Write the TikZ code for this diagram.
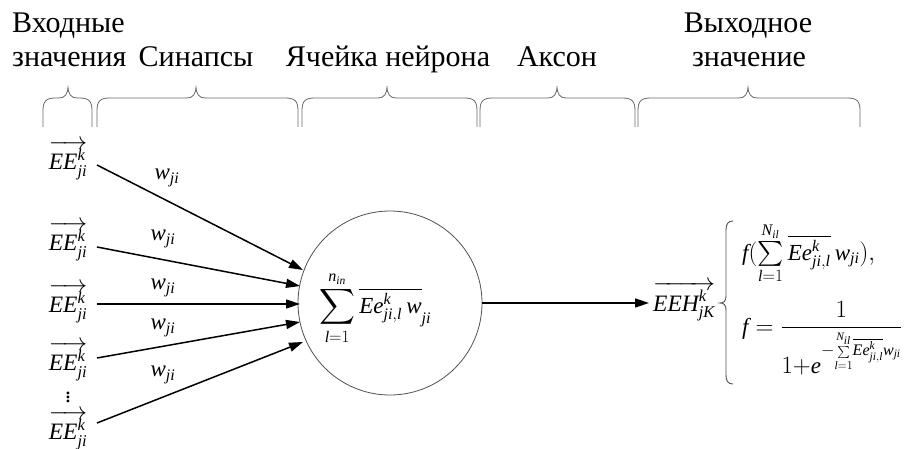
\documentclass[tikz,border=0pt]{standalone}
\usepackage{exscale}
\usepackage{amsmath}
\usepackage{fontspec}
\setmainfont{Liberation Serif}
\newfontfamily\libser{Liberation Serif}[NFSSFamily=libser]
\DeclareSymbolFont{tlet}{TU}{libser}{m}{it}
\DeclareMathSymbol{E}{\mathalpha}{tlet}{`E}
\DeclareMathSymbol{H}{\mathalpha}{tlet}{`H}
\DeclareMathSymbol{K}{\mathalpha}{tlet}{`K}
\DeclareMathSymbol{N}{\mathalpha}{tlet}{`N}
\DeclareMathSymbol{e}{\mathalpha}{tlet}{`e}
\DeclareMathSymbol{f}{\mathalpha}{tlet}{`f}
\DeclareMathSymbol{i}{\mathalpha}{tlet}{`i}
\DeclareMathSymbol{j}{\mathalpha}{tlet}{`j}
\DeclareMathSymbol{k}{\mathalpha}{tlet}{`k}
\DeclareMathSymbol{l}{\mathalpha}{tlet}{`l}
\DeclareMathSymbol{n}{\mathalpha}{tlet}{`n}
\DeclareMathSymbol{w}{\mathalpha}{tlet}{`w}
\usetikzlibrary{arrows.meta}
\definecolor{bracegray}{HTML}{6A6A6A}
\definecolor{circgray}{HTML}{505050}
\tikzset{
  lbl/.style={font=\fontsize{30}{34}\selectfont, inner sep=0pt},
  inp/.style={font=\fontsize{23.5}{26}\selectfont, inner sep=0pt},
  wl/.style={font=\fontsize{23}{26}\selectfont, inner sep=0pt},
  eq/.style={font=\fontsize{23}{26}\selectfont, inner sep=0pt},
  arr/.style={line width=1.5pt, -{Triangle[length=14pt,width=9pt]}},
  brc/.style={draw=bracegray, line width=0.8pt},
}
\begin{document}
\begin{tikzpicture}[x=1pt,y=-1pt]
\useasboundingbox (0,0) rectangle (912,449);
% titles
\node[lbl, anchor=base west] (t1a) at (12,33) {Входные};
\node[lbl, anchor=base west] (t1b) at (12,67) {значения};
\node[lbl, anchor=base] (t2) at (196,67) {Синапсы};
\node[lbl, anchor=base] (t3) at (388,67) {Ячейка нейрона};
\node[lbl, anchor=base] (t4) at (557,67) {Аксон};
\node[lbl, anchor=base] (t5a) at (748,33) {Выходное};
\node[lbl, anchor=base] (t5b) at (749,67) {значение};
% braces
\foreach \xa/\xb/\tp in {43/92/68, 97/298/196, 302/477/387, 480/635/557, 638/860/748}{
  \draw[brc] (\xa,127) -- (\xa,111) .. controls (\xa,101) and (\xa+3,98) .. (\xa+13,98)
     -- (\tp-9,98) .. controls (\tp-3,98) and (\tp,94) .. (\tp,86)
     .. controls (\tp,94) and (\tp+3,98) .. (\tp+9,98)
     -- (\xb-13,98) .. controls (\xb-3,98) and (\xb,101) .. (\xb,111) -- (\xb,127);
}
% inputs
\node[inp] (i1) at (68,160) {$\overrightarrow{EE^{k}_{ji}}$};
\node[inp] (i2) at (68,241) {$\overrightarrow{EE^{k}_{ji}}$};
\node[inp] (i3) at (68,303) {$\overrightarrow{EE^{k}_{ji}}$};
\node[inp] (i4) at (68,361) {$\overrightarrow{EE^{k}_{ji}}$};
\node[inp] (dd) at (68,394) {$\vdots$};
\node[inp] (i5) at (68,430) {$\overrightarrow{EE^{k}_{ji}}$};
% neuron
\node[draw=circgray, line width=0.8pt, circle, minimum size=184pt, inner sep=0pt] (c) at (390,303) {};
\node[eq, anchor=base west] (sum) at (319,313) {$\displaystyle\sum_{l=1}^{n_{in}}\overline{Ee^{k}_{ji,l}\,w}_{ji}$};
% coordinates for arrow ends
\coordinate (s1) at (97,165); \coordinate (e1) at (303,270);
\coordinate (s2) at (97,247); \coordinate (e2) at (300,286);
\coordinate (s3) at (97,304); \coordinate (e3) at (300,304);
\coordinate (s4) at (97,358); \coordinate (e4) at (300,322);
\coordinate (s5) at (97,423); \coordinate (e5) at (303,342);
\foreach \i in {1,...,5}{ \draw[arr] (s\i) -- (e\i); }
% weights
\node[wl] (w1) at (167,178) {$w_{ji}$};
\node[wl] (w2) at (163,239) {$w_{ji}$};
\node[wl] (w3) at (163,288) {$w_{ji}$};
\node[wl] (w4) at (163,328) {$w_{ji}$};
\node[wl] (w5) at (163,375) {$w_{ji}$};
% output
\node[inp, anchor=base west, inner sep=4pt] (out) at (649,311) {$\overrightarrow{EEH^{k}_{jK}}$};
\draw[arr] (c.east) -- (c.east -| out.west);
\draw[draw=circgray, line width=0.9pt] (733,221) .. controls (728,221) and (726,224) .. (726,230) -- (726,296)
   .. controls (726,301) and (724,303) .. (720,303) .. controls (724,303) and (726,305) .. (726,310)
   -- (726,375) .. controls (726,381) and (728,384) .. (733,384);
\node[eq, anchor=base west] (f1) at (742,260) {$f(\sum\limits_{l=1}^{N_{il}}\overline{Ee^{k}_{ji,l}}\,w_{ji}),$};
\node[eq, anchor=base west] (f2) at (742,334) {$f=\dfrac{1}{1{+}e^{{-}\!\mathop{\scriptscriptstyle\sum}\limits_{l=1}^{N_{il}}\!\overline{Ee^{k}_{ji,l}}w_{ji}}}$};
\end{tikzpicture}
\end{document}
